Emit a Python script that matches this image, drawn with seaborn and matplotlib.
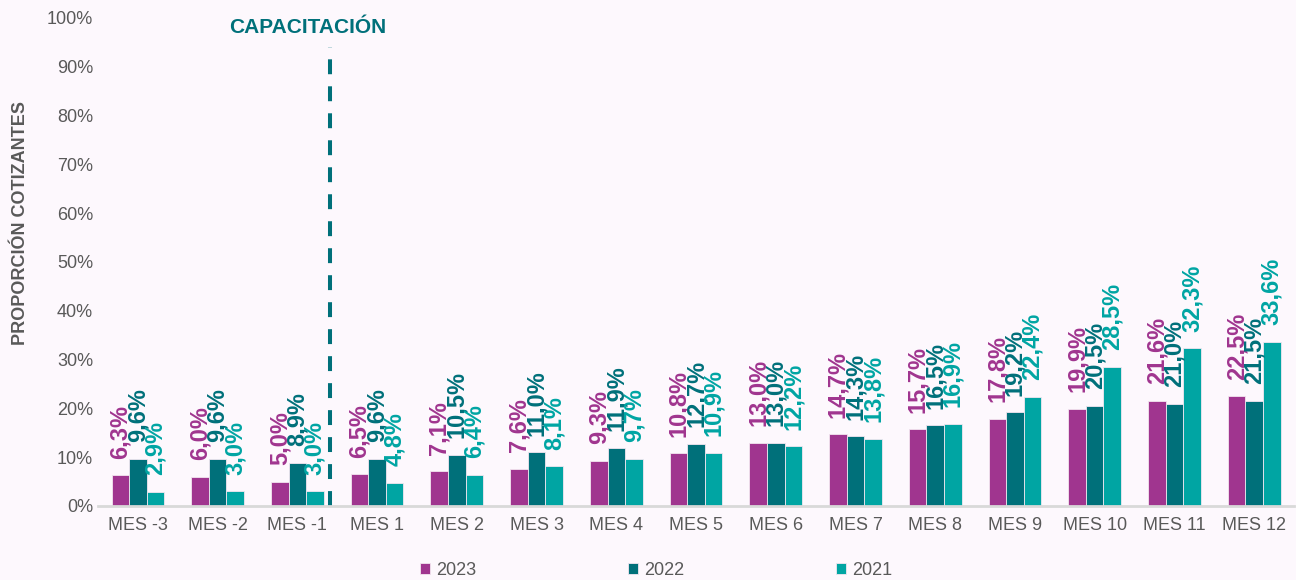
import pandas as pd
import matplotlib.pyplot as plt
import seaborn as sns
from matplotlib.ticker import FuncFormatter

meses = ["MES -3", "MES -2", "MES -1", "MES 1", "MES 2", "MES 3", "MES 4", "MES 5",
         "MES 6", "MES 7", "MES 8", "MES 9", "MES 10", "MES 11", "MES 12"]
v2023 = [6.3, 6.0, 5.0, 6.5, 7.1, 7.6, 9.3, 10.8, 13.0, 14.7, 15.7, 17.8, 19.9, 21.6, 22.5]
v2022 = [9.6, 9.6, 8.9, 9.6, 10.5, 11.0, 11.9, 12.7, 13.0, 14.3, 16.5, 19.2, 20.5, 21.0, 21.5]
v2021 = [2.9, 3.0, 3.0, 4.8, 6.4, 8.1, 9.7, 10.9, 12.2, 13.8, 16.9, 22.4, 28.5, 32.3, 33.6]
anios = ["2023", "2022", "2021"]
colores = ["#A0358F", "#00707A", "#00A5A3"]

df = pd.DataFrame({
    "mes": meses * 3,
    "valor": v2023 + v2022 + v2021,
    "anio": [a for a in anios for _ in meses],
})

sns.set_style("white")
plt.rcParams["font.family"] = ["Liberation Sans", "DejaVu Sans"]
gris = "#595959"
fondo = "#FDF8FD"

fig = plt.figure(figsize=(12.96, 5.8), dpi=100, facecolor=fondo)
ax = fig.add_axes([0.0756, 0.1276, 0.9229, 0.8414])
ax.set_facecolor(fondo)

sns.barplot(data=df, x="mes", y="valor", hue="anio", palette=colores, width=0.66,
            saturation=1, edgecolor="#f2e6f0", linewidth=0.6, ax=ax, legend=True)

for cont, serie, col in zip(ax.containers, [v2023, v2022, v2021], colores):
    etiquetas = [f"{v:.1f}%".replace(".", ",") for v in serie]
    ax.bar_label(cont, labels=etiquetas, rotation=90, padding=12, fontsize=17,
                 fontweight="bold", color=col)

ax.set_ylim(0, 100)
ax.set_xlim(-0.5, 14.5)
ax.yaxis.set_major_formatter(FuncFormatter(lambda v, p: f"{v:.0f}%"))
ax.set_yticks(range(0, 101, 10))
ax.tick_params(axis="both", length=0, labelsize=13, colors=gris)
ax.tick_params(axis="x", pad=8)
ax.set_xlabel("")
ax.set_ylabel("")
for s in ["top", "right", "left"]:
    ax.spines[s].set_visible(False)
ax.spines["bottom"].set_color("#d9d9d9")
ax.spines["bottom"].set_linewidth(2)

# linea de capacitacion
ax.plot([2.41, 2.41], [0, 94], color="#00707A", lw=2.9, linestyle=(0, (3.7, 3)))
ax.text(2.13, 98, "CAPACITACIÓN", ha="center", va="center", fontsize=15,
        fontweight="bold", color="#00707A", clip_on=False)

fig.text(0.0155, 1 - 223 / 580, "PROPORCIÓN COTIZANTES", rotation=90, ha="center",
         va="center", fontsize=13, fontweight="bold", color=gris)

ax.get_legend().remove()
h, l = ax.get_legend_handles_labels()
fig.legend(h, l, loc="center", bbox_to_anchor=(0.506, 0.017), ncol=3, frameon=False,
           fontsize=13, labelcolor=gris, handlelength=0.6, handleheight=0.6,
           handletextpad=0.3, columnspacing=8.4)

fig.savefig("out.png", dpi=100, facecolor=fondo)
